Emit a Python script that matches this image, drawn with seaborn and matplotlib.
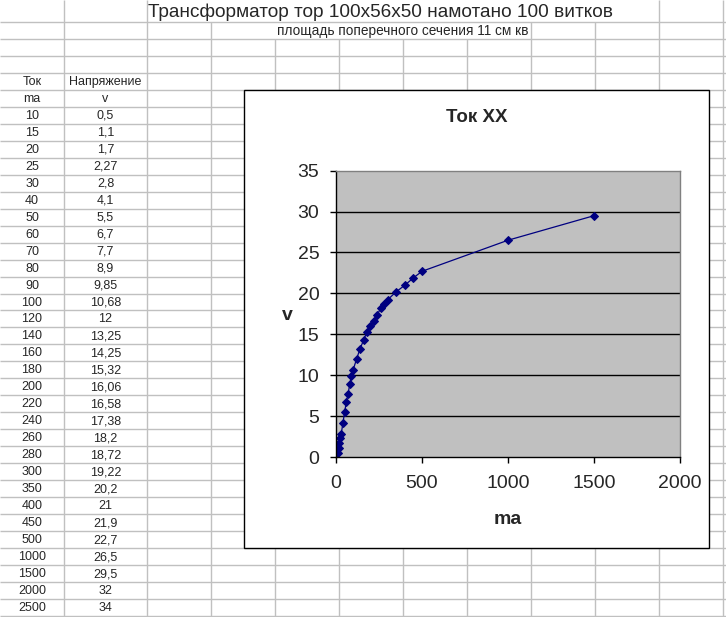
import matplotlib
matplotlib.use("Agg")
import matplotlib.pyplot as plt
import seaborn as sns
import pandas as pd
from matplotlib.patches import Rectangle

## DATA
sheet_title = "Трансформатор тор 100x56x50 намотано 100 витков"
sheet_subtitle = "площадь поперечного сечения 11 см кв"
header_cols = ["Ток", "Напряжение"]
header_units = ["ma", "v"]

current_ma = [10, 15, 20, 25, 30, 40, 50, 60, 70, 80, 90, 100, 120, 140, 160,
              180, 200, 220, 240, 260, 280, 300, 350, 400, 450, 500, 1000,
              1500, 2000, 2500]
voltage_v = [0.5, 1.1, 1.7, 2.27, 2.8, 4.1, 5.5, 6.7, 7.7, 8.9, 9.85, 10.68,
             12, 13.25, 14.25, 15.32, 16.06, 16.58, 17.38, 18.2, 18.72, 19.22,
             20.2, 21, 21.9, 22.7, 26.5, 29.5, 32, 34]
n_plotted = 28  # chart series only goes up to 1500 ma

chart_title = "Ток XX"
x_label = "ma"
y_label = "v"
x_ticks = [0, 500, 1000, 1500, 2000]
y_ticks = [0, 5, 10, 15, 20, 25, 30, 35]

df = pd.DataFrame({"ma": current_ma, "v": voltage_v})

# %%
## STYLE
sns.set_style("white")
plt.rcParams['font.family'] = ['Liberation Sans', 'DejaVu Sans']

W, H = 726, 617
fig = plt.figure(figsize=(W / 100, H / 100), dpi=100)

# spreadsheet background (pixel coordinates)
bg = fig.add_axes([0, 0, 1, 1])
bg.set_xlim(0, W)
bg.set_ylim(H, 0)
bg.axis("off")

grid_c = "#c0c0c0"
col_edges = [64, 147, 211, 275, 339, 403, 467, 531, 595, 659, 723]
row_h = 16.97
row_edges = [22 + i * row_h for i in range(36)]

for y in row_edges:
    bg.hlines(y, 0, W, color=grid_c, lw=1, zorder=1)

# gridlines hidden where the title texts overflow
hidden_row1 = [211, 275, 339, 403, 467, 531, 595]
hidden_row2 = [275, 339, 403, 467]
for x in col_edges:
    if x not in hidden_row1:
        bg.vlines(x, 0, row_edges[0], color=grid_c, lw=1, zorder=1)
    if x not in hidden_row2:
        bg.vlines(x, row_edges[0], row_edges[1], color=grid_c, lw=1, zorder=1)
    bg.vlines(x, row_edges[1], row_edges[-1], color=grid_c, lw=1, zorder=1)

bg.text(148, 12, sheet_title, fontsize=13.7, ha="left", va="center", zorder=3)
bg.text(403, 30.5, sheet_subtitle, fontsize=9.8, ha="center", va="center", zorder=3)

col_centers = [32, 105.5]
def row_center(i):
    return row_edges[i] + row_h / 2 + 0.5

for c, txt in enumerate(header_cols):
    bg.text(col_centers[c], row_center(3), txt, fontsize=9, ha="center", va="center")
for c, txt in enumerate(header_units):
    bg.text(col_centers[c], row_center(4), txt, fontsize=9, ha="center", va="center")
for i, (a, v) in enumerate(zip(current_ma, voltage_v)):
    bg.text(col_centers[0], row_center(5 + i), f"{a:g}", fontsize=9, ha="center", va="center")
    bg.text(col_centers[1], row_center(5 + i), f"{v:g}".replace(".", ","), fontsize=9,
            ha="center", va="center")

# chart object
bg.add_patch(Rectangle((244, 90), 465, 458, facecolor="white", edgecolor="black",
                       lw=1, zorder=5))
bg.text(476.5, 118, chart_title, fontsize=13.5, fontweight="bold", ha="center",
        va="center", zorder=6)

# %%
## PLOT
pl, pr, pt, pb = 336, 680, 170.7, 457
ax = fig.add_axes([pl / W, 1 - pb / H, (pr - pl) / W, (pb - pt) / H])
ax.set_facecolor("#c0c0c0")

sns.lineplot(data=df.iloc[:n_plotted], x="ma", y="v", ax=ax, estimator=None,
             color="#000080", lw=0.9, marker="D", markersize=4.5,
             markeredgecolor="#000080", sort=False)

ax.set_xlim(x_ticks[0], x_ticks[-1])
ax.set_ylim(y_ticks[0], y_ticks[-1])
ax.set_xticks(x_ticks)
ax.set_yticks(y_ticks)
ax.grid(False)
for t in y_ticks[1:-1]:
    ax.axhline(t, color="black", lw=1, zorder=1)

for s in ax.spines.values():
    s.set_color("#808080")
    s.set_linewidth(1)
ax.spines["left"].set_color("black")
ax.spines["bottom"].set_color("black")

ax.tick_params(axis="both", direction="out", length=4, width=1, color="black",
               labelsize=14, bottom=True, left=True)
ax.tick_params(axis="y", pad=8)
ax.tick_params(axis="x", pad=9)

ax.set_xlabel(x_label, fontsize=14, fontweight="bold")
ax.set_ylabel(y_label, fontsize=14, fontweight="bold", rotation=0)
ax.xaxis.set_label_coords(0.5, (pb - 519) / (pb - pt))
ax.xaxis.label.set_va("center")
ax.yaxis.set_label_coords((287 - pl) / (pr - pl), 0.5 - (316 - (pt + pb) / 2) / (pb - pt))
ax.yaxis.label.set_va("center")
ax.yaxis.label.set_ha("center")

plt.savefig("out.png", dpi=100)
